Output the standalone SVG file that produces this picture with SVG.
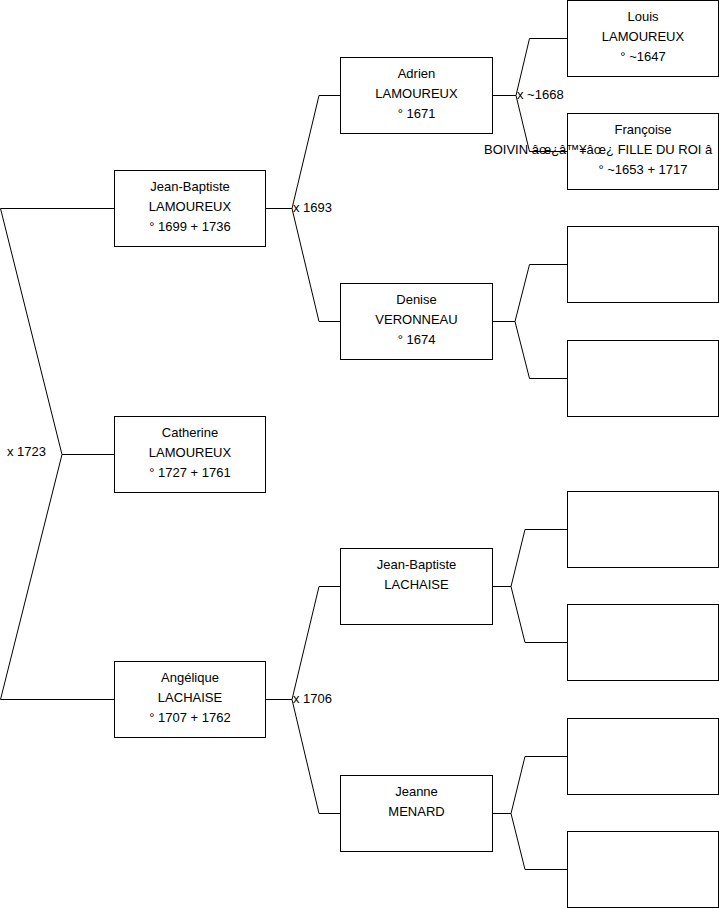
<svg xmlns="http://www.w3.org/2000/svg" width="719" height="908" viewBox="0 0 719 908">
<style>
.box{fill:#fff;stroke:#000;stroke-width:1}
.ln{fill:none;stroke:#000;stroke-width:1}
text{font-family:"Liberation Sans",Arial,sans-serif;font-size:13px;fill:#000}
.c{text-anchor:middle}
</style>
<rect width="719" height="908" fill="#fff"/>
<g id="connectors">
<polyline class="ln" points="114.5,208.5 0.5,208.5 62,454.5 0.5,699.5 114.5,699.5"/>
<line class="ln" x1="62" y1="454.5" x2="114.5" y2="454.5"/>
<polyline class="ln" points="265.5,208.5 292,208.5 319,95.5 340.5,95.5"/>
<polyline class="ln" points="292,208.5 319,321.5 340.5,321.5"/>
<polyline class="ln" points="265.5,699.5 292,699.5 319,586.5 340.5,586.5"/>
<polyline class="ln" points="292,699.5 319,813.5 340.5,813.5"/>
<polyline class="ln" points="492.5,95.5 516,95.5 529.5,38.5 567.5,38.5"/>
<polyline class="ln" points="516,95.5 529.5,151.5 567.5,151.5"/>
<polyline class="ln" points="492.5,321.5 515,321.5 529.5,264.5 567.5,264.5"/>
<polyline class="ln" points="515,321.5 529.5,378.5 567.5,378.5"/>
<polyline class="ln" points="492.5,586.5 511,586.5 525,529.5 567.5,529.5"/>
<polyline class="ln" points="511,586.5 525,642.5 567.5,642.5"/>
<polyline class="ln" points="492.5,813.5 511,813.5 525,756.5 567.5,756.5"/>
<polyline class="ln" points="511,813.5 525,869.5 567.5,869.5"/>
<text x="7" y="456">x 1723</text>
<text x="293" y="211.5">x 1693</text>
<text x="293" y="702.5">x 1706</text>
<text x="517" y="98.5">x ~1668</text>
</g>
<g id="n-jb-lamoureux">
<rect class="box" x="114.5" y="170.5" width="151" height="76"/>
<text class="c" x="190" y="191">Jean-Baptiste</text>
<text class="c" x="190" y="211">LAMOUREUX</text>
<text class="c" x="190" y="230.5">° 1699 + 1736</text>
</g>
<g id="n-catherine">
<rect class="box" x="114.5" y="416.5" width="151" height="76"/>
<text class="c" x="190" y="437">Catherine</text>
<text class="c" x="190" y="457">LAMOUREUX</text>
<text class="c" x="190" y="476.5">° 1727 + 1761</text>
</g>
<g id="n-angelique">
<rect class="box" x="114.5" y="661.5" width="151" height="76"/>
<text class="c" x="190" y="682">Angélique</text>
<text class="c" x="190" y="702">LACHAISE</text>
<text class="c" x="190" y="721.5">° 1707 + 1762</text>
</g>
<g id="n-adrien">
<rect class="box" x="340.5" y="57.5" width="152" height="76"/>
<text class="c" x="416.5" y="78">Adrien</text>
<text class="c" x="416.5" y="98">LAMOUREUX</text>
<text class="c" x="416.5" y="117.5">° 1671</text>
</g>
<g id="n-denise">
<rect class="box" x="340.5" y="283.5" width="152" height="76"/>
<text class="c" x="416.5" y="304">Denise</text>
<text class="c" x="416.5" y="324">VERONNEAU</text>
<text class="c" x="416.5" y="343.5">° 1674</text>
</g>
<g id="n-jb-lachaise">
<rect class="box" x="340.5" y="548.5" width="152" height="76"/>
<text class="c" x="416.5" y="569">Jean-Baptiste</text>
<text class="c" x="416.5" y="589">LACHAISE</text>
</g>
<g id="n-jeanne">
<rect class="box" x="340.5" y="775.5" width="152" height="76"/>
<text class="c" x="416.5" y="796">Jeanne</text>
<text class="c" x="416.5" y="816">MENARD</text>
</g>
<g id="n-louis">
<rect class="box" x="567.5" y="0.5" width="151" height="76"/>
<text class="c" x="643" y="21">Louis</text>
<text class="c" x="643" y="41">LAMOUREUX</text>
<text class="c" x="643" y="60.5">° ~1647</text>
</g>
<g id="n-francoise">
<rect class="box" x="567.5" y="113.5" width="151" height="76"/>
<text class="c" x="643" y="134">Françoise</text>
<text x="484" y="154">BOIVIN âœ¿â™¥âœ¿ FILLE DU ROI â</text>
<text class="c" x="643" y="173.5">° ~1653 + 1717</text>
</g>
<g id="n-empty-1"><rect class="box" x="567.5" y="226.5" width="151" height="76"/></g>
<g id="n-empty-2"><rect class="box" x="567.5" y="340.5" width="151" height="76"/></g>
<g id="n-empty-3"><rect class="box" x="567.5" y="491.5" width="151" height="76"/></g>
<g id="n-empty-4"><rect class="box" x="567.5" y="604.5" width="151" height="76"/></g>
<g id="n-empty-5"><rect class="box" x="567.5" y="718.5" width="151" height="76"/></g>
<g id="n-empty-6"><rect class="box" x="567.5" y="831.5" width="151" height="76"/></g>
</svg>
